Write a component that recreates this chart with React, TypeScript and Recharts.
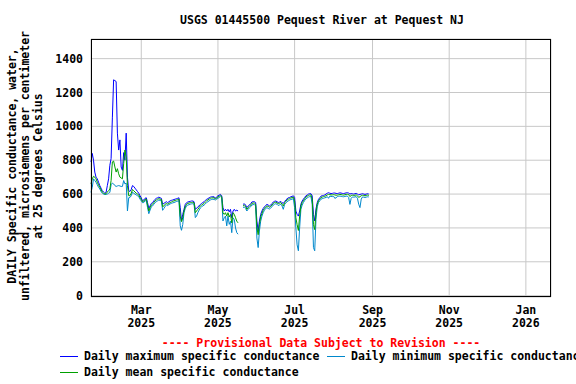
import React from 'react';
import { LineChart, Line, XAxis, YAxis, CartesianGrid } from 'recharts';

// Daily values starting 2025-01-20, microsiemens per centimeter (null = no data)
const startDate = '2025-01-20';

const maxValues = [
  790, 840, 800, 730, 700, 690, 670, 650, 635, 620,
  612, 605, 610, 650, 690, 770, 810, 1050, 1275, 1270,
  1265, 960, 860, 920, 760, 740, 845, 800, 960, 700,
  620, 615, 627, 650, 645, 635, 625, 615, 605, 590,
  578, 560, 565, 575, 578, 549, 515, 530, 545, 549,
  560, 569, 575, 578, 582, 578, 575, 540, 545, 550,
  555, 549, 555, 560, 563, 565, 568, 570, 573, 575,
  578, 520, 441, 480, 510, 539, 549, 553, 555, 557,
  559, 559, 555, 510, 515, 525, 530, 539, 545, 550,
  555, 563, 569, 573, 578, 582, 584, 584, 584, 575,
  584, 590, 594, 598, 590, 520, 500, 510, 500, 510,
  495, 510, 460, 500, 510, 500, 505, 500, null, null,
  null, 539, 543, 535, 520, 529, 535, 543, 553, 555,
  555, 550, 440, 382, 441, 480, 500, 515, 525, 533,
  539, 535, 530, 535, 543, 553, 557, 559, 555, 550,
  553, 557, 549, 545, 555, 565, 572, 578, 580, 584,
  586, 590, 580, 500, 480, 470, 500, 540, 559, 570,
  580, 590, 594, 600, 602, 602, 590, 480, 441, 512,
  549, 569, 578, 588, 590, 592, 595, 600, 605, 608,
  605, 603, 604, 606, 606, 604, 603, 605, 607, 606,
  604, 603, 605, 607, 608, 606, 600, 603, 602, 600,
  602, 604, 600, 595, 598, 600, 602, 600, 598, 600,
  602, 600,
];

const meanValues = [
  660, 690, 705, 700, 690, 670, 655, 640, 625, 612,
  605, 600, 602, 612, 620, 630, 680, 790, 795, 760,
  730, 750, 720, 700, 695, 690, 780, 860, 820, 650,
  590, 590, 605, 627, 620, 612, 605, 600, 595, 580,
  570, 555, 558, 568, 570, 535, 500, 520, 535, 540,
  550, 560, 565, 570, 573, 570, 568, 525, 530, 540,
  545, 540, 545, 550, 553, 557, 560, 562, 565, 567,
  570, 470, 437, 460, 500, 525, 540, 545, 547, 549,
  550, 552, 548, 490, 500, 510, 520, 530, 535, 540,
  545, 553, 560, 565, 570, 575, 577, 578, 578, 570,
  578, 583, 587, 592, 585, 490, 480, 490, 470, 490,
  465, 480, 430, 490, 480, 460, 440, 430, null, null,
  null, 530, 535, 528, 510, 520, 527, 535, 545, 547,
  547, 540, 400, 360, 420, 465, 485, 505, 515, 525,
  530, 527, 522, 527, 535, 545, 550, 552, 548, 543,
  546, 550, 540, 530, 548, 557, 565, 570, 573, 577,
  579, 582, 560, 460, 420, 385, 470, 530, 550, 560,
  572, 582, 587, 592, 595, 595, 570, 420, 390, 490,
  540, 560, 570, 580, 582, 585, 587, 590, 595, 598,
  597, 595, 595, 597, 595, 593, 594, 596, 598, 597,
  595, 594, 596, 598, 599, 597, 585, 592, 593, 592,
  593, 595, 590, 580, 585, 590, 593, 592, 590, 592,
  594, 592,
];

const minValues = [
  610, 640, 690, 680, 670, 655, 640, 630, 615, 605,
  600, 598, 598, 600, 605, 610, 655, 665, 660, 650,
  645, 648, 650, 648, 645, 645, 680, 660, 665, 500,
  578, 580, 590, 612, 605, 600, 595, 590, 585, 570,
  560, 549, 550, 560, 562, 520, 484, 505, 525, 530,
  540, 550, 555, 560, 565, 562, 560, 504, 515, 528,
  535, 532, 538, 542, 545, 548, 550, 553, 556, 558,
  560, 412, 386, 420, 490, 515, 530, 535, 537, 540,
  542, 543, 540, 461, 470, 490, 505, 518, 525, 530,
  535, 542, 550, 555, 560, 565, 568, 570, 568, 565,
  570, 575, 580, 585, 578, 441, 460, 470, 412, 470,
  421, 440, 372, 460, 450, 400, 372, 363, null, null,
  null, 520, 525, 515, 500, 510, 518, 525, 535, 538,
  538, 530, 340, 284, 382, 440, 470, 490, 505, 515,
  520, 515, 512, 518, 525, 535, 540, 543, 540, 532,
  536, 540, 530, 510, 538, 548, 555, 560, 564, 568,
  570, 573, 520, 400, 300, 265, 400, 510, 535, 550,
  562, 572, 577, 582, 585, 585, 540, 284, 265, 450,
  525, 550, 560, 570, 573, 575, 578, 580, 585, 575,
  588, 586, 585, 587, 575, 578, 585, 587, 588, 587,
  585, 584, 586, 588, 588, 580, 539, 575, 583, 582,
  583, 585, 575, 540, 520, 570, 583, 582, 580, 582,
  584, 583,
];

const xTickDates = ['2025-03-01', '2025-05-01', '2025-07-01', '2025-09-01', '2025-11-01', '2026-01-01'];
const xTickMonths = ['Mar', 'May', 'Jul', 'Sep', 'Nov', 'Jan'];
const xTickYears = ['2025', '2025', '2025', '2025', '2025', '2026'];
const yTicks = [0, 200, 400, 600, 800, 1000, 1200, 1400];
const endDate = '2026-01-21';

const DAY = 86400000;
const dayOf = (iso: string) => Math.round((Date.parse(iso) - Date.parse(startDate)) / DAY);
const xTickDays = xTickDates.map(dayOf);

const data = maxValues.map((v, i) => ({
  day: i,
  max: v,
  mean: meanValues[i],
  min: minValues[i],
}));

const FONT = "'DejaVu Sans Mono', monospace";
const MAX_COLOR = '#0000ff';
const MIN_COLOR = '#0088cc';
const MEAN_COLOR = '#00a000';

const textStyle: React.CSSProperties = {
  fontFamily: FONT,
  fontWeight: 'bold',
  fontSize: 11.5,
  color: '#000',
  whiteSpace: 'nowrap',
};

function MonthTick({ x, y, payload }: any) {
  const i = xTickDays.indexOf(payload.value);
  return (
    <text x={x} y={y} textAnchor="middle" fill="#000" fontFamily={FONT} fontWeight="bold" fontSize={11.5}>
      <tspan x={x} dy={9}>{xTickMonths[i]}</tspan>
      <tspan x={x} dy={13}>{xTickYears[i]}</tspan>
    </text>
  );
}

function LegendItem({ left, top, color, label }: { left: number; top: number; color: string; label: string }) {
  return (
    <div style={{ position: 'absolute', left, top, display: 'flex', alignItems: 'center', ...textStyle }}>
      <span style={{ display: 'inline-block', width: 18, height: 1, background: color, marginRight: 6 }} />
      <span>{label}</span>
    </div>
  );
}

export default function App() {
  return (
    <div style={{ position: 'relative', width: 576, height: 384, overflow: 'hidden', background: '#fff' }}>
      <style>{'body{margin:0}'}</style>

      {/* Title */}
      <div style={{ position: 'absolute', left: 0, width: 644, top: 13, textAlign: 'center', ...textStyle }}>
        USGS 01445500 Pequest River at Pequest NJ
      </div>

      {/* Y axis title */}
      <div
        style={{
          position: 'absolute',
          left: 26 - 150,
          top: 166 - 20,
          width: 300,
          height: 40,
          lineHeight: '13px',
          textAlign: 'center',
          transform: 'rotate(-90deg)',
          ...textStyle,
        }}
      >
        DAILY Specific conductance, water,
        <br />
        unfiltered, microsiemens per centimeter
        <br />
        at 25 degrees Celsius
      </div>

      <LineChart width={576} height={384} data={data} margin={{ top: 39, right: 25, bottom: 47, left: 0 }}>
        <CartesianGrid stroke="#c8c8c8" vertical horizontal />
        <XAxis
          type="number"
          dataKey="day"
          domain={[0, dayOf(endDate)]}
          ticks={xTickDays}
          tick={<MonthTick />}
          axisLine={false}
          tickLine={false}
          height={40}
          interval={0}
        />
        <YAxis
          type="number"
          domain={[-8, 1516]}
          ticks={yTicks}
          width={91}
          axisLine={false}
          tickLine={false}
          tick={{ fill: '#000', fontFamily: FONT, fontWeight: 'bold', fontSize: 11.5 }}
          interval={0}
        />
        <Line type="linear" dataKey="max" stroke={MAX_COLOR} strokeWidth={1} dot={false} isAnimationActive={false} />
        <Line type="linear" dataKey="min" stroke={MIN_COLOR} strokeWidth={1} dot={false} isAnimationActive={false} />
        <Line type="linear" dataKey="mean" stroke={MEAN_COLOR} strokeWidth={1} dot={false} isAnimationActive={false} />
      </LineChart>

      {/* Plot frame */}
      <div
        style={{
          position: 'absolute',
          left: 91,
          top: 39,
          width: 460,
          height: 258,
          border: '1px solid #000',
          boxSizing: 'border-box',
          pointerEvents: 'none',
        }}
      />

      <div style={{ position: 'absolute', left: 0, width: 642, top: 336, textAlign: 'center', ...textStyle, color: '#ff0000' }}>
        ---- Provisional Data Subject to Revision ----
      </div>

      <LegendItem left={60} top={349} color={MAX_COLOR} label="Daily maximum specific conductance" />
      <LegendItem left={327} top={349} color={MIN_COLOR} label="Daily minimum specific conductance" />
      <LegendItem left={60} top={365} color={MEAN_COLOR} label="Daily mean specific conductance" />
    </div>
  );
}
